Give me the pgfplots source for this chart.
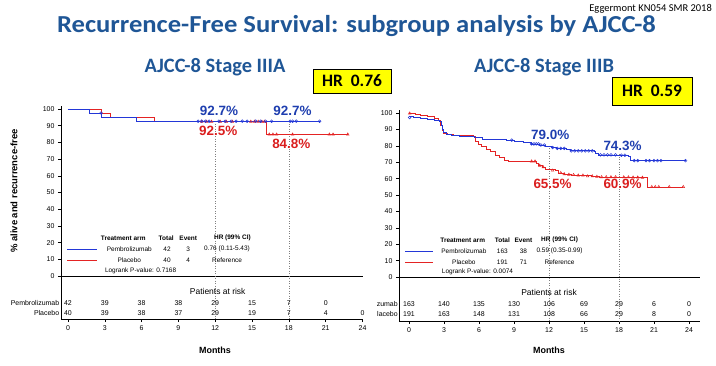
\documentclass[border=0pt]{standalone}
\usepackage{fontspec}
\setmainfont{Liberation Sans}
\newfontfamily\calfont{Carlito}
\usepackage{pgfplots}
\pgfplotsset{compat=1.18}
\definecolor{ttl}{RGB}{31,86,150}
\definecolor{kmblue}{RGB}{35,55,215}
\definecolor{kmred}{RGB}{228,35,35}
\definecolor{lblblue}{RGB}{30,62,175}
\definecolor{lblred}{RGB}{218,30,30}
\definecolor{hryel}{RGB}{255,255,0}
\pgfplotsset{kmaxis/.style={scale only axis, axis lines=left,
  axis line style={-, black, line width=0.6pt}, tick align=outside,
  major tick length=3bp, tick style={black, line width=0.5pt},
  ytick={0,10,...,100}, xtick={0,3,...,24}, clip=false,
  /pgf/number format/assume math mode=true,
  tick label style={font=\fontsize{7}{8}\selectfont},
  anchor=south west},
  bluecurve/.style={const plot, color=kmblue, line width=0.6pt, mark=none},
  redcurve/.style={const plot, color=kmred, line width=0.6pt, mark=none},
  bluecens/.style={only marks, mark=o, mark size=1.4bp, color=kmblue, mark options={line width=0.5pt}},
  redcens/.style={only marks, mark=triangle, mark size=1.5bp, color=kmred, mark options={line width=0.5pt}}}
\tikzset{risk/.style={font=\fontsize{7}{8}\selectfont, inner sep=0pt},
  leg/.style={font=\fontsize{6.5}{7}\selectfont, inner sep=0pt},
  legh/.style={font=\bfseries\fontsize{6.5}{7}\selectfont, inner sep=0pt},
  pctb/.style={font=\bfseries\fontsize{13.5}{14}\selectfont, text=lblblue, inner sep=0pt},
  pctr/.style={font=\bfseries\fontsize{13.5}{14}\selectfont, text=lblred, inner sep=0pt},
  hrbox/.style={draw=black, fill=hryel, line width=0.6pt, inner sep=0pt, font=\calfont\bfseries\fontsize{17.5}{18}\selectfont}}
\begin{document}
\begin{tikzpicture}
\path[use as bounding box] (0bp,0bp) rectangle (716bp,366bp);
% titles
\node[font=\calfont\bfseries\fontsize{24.5}{26}\selectfont, text=ttl, anchor=base, inner sep=0pt] at (356.5bp,333bp) {\scalebox{1.09}[1]{Recurrence-Free Survival: subgroup analysis by AJCC-8}};
\node[font=\calfont\fontsize{10.5}{11}\selectfont, anchor=east, inner sep=0pt] at (712bp,357bp) {Eggermont KN054 SMR 2018};
\node[font=\calfont\bfseries\fontsize{20.5}{22}\selectfont, text=ttl, anchor=base, inner sep=0pt] at (215bp,293bp) {AJCC-8 Stage IIIA};
\node[font=\calfont\bfseries\fontsize{20.5}{22}\selectfont, text=ttl, anchor=base, inner sep=0pt] at (544bp,293bp) {AJCC-8 Stage IIIB};
\node[hrbox, minimum width=78bp, minimum height=24bp] at (352bp,285bp) {HR\ \ 0.76};
\node[hrbox, minimum width=80bp, minimum height=28bp] at (652bp,275bp) {HR\ \ 0.59};
\node[rotate=90, font=\bfseries\fontsize{9.5}{10}\selectfont] at (14bp,175bp) {\% alive and recurrence-free};
\node[font=\bfseries\fontsize{9}{10}\selectfont] at (215bp,16bp) {Months};
\node[font=\bfseries\fontsize{9}{10}\selectfont] at (549bp,16bp) {Months};

% ---------------- Left panel: Stage IIIA ----------------
\begin{axis}[kmaxis, at={(61bp,47bp)}, width=301.5bp, height=213.3bp,
  xmin=-0.57, xmax=24, ymin=-25.7, ymax=102]
\draw[black, line width=0.6pt] (axis cs:-0.57,0) -- (axis cs:24,0);
\draw[gray, dotted, line width=0.5pt] (axis cs:12,92.7) -- (axis cs:12,-25.7);
\draw[gray, dotted, line width=0.5pt] (axis cs:18,92.7) -- (axis cs:18,-25.7);
\addplot[redcurve] coordinates {(0,100) (2.75,97.5) (3.42,95.0) (7.0,92.5) (16.2,84.8) (22.8,84.8)};
\addplot[bluecurve] coordinates {(0,100) (1.74,97.6) (2.74,95.2) (5.6,92.7) (20.5,92.7)};
\addplot[redcens] coordinates {(10.9,92.5) (11.3,92.5) (11.7,92.5) (12.4,92.5) (12.9,92.5) (13.4,92.5) (14.9,92.5) (15.2,92.5) (15.5,92.5) (15.8,92.5) (16.0,92.5)
  (16.4,84.8) (16.7,84.8) (17.0,84.8) (18.3,84.8) (21.3,84.8) (21.6,84.8) (22.8,84.8)};
\addplot[bluecens] coordinates {(2.7,97.6) (10.6,92.7) (10.9,92.7) (11.2,92.7) (11.5,92.7) (12.3,92.7) (12.8,92.7) (13.3,92.7) (13.7,92.7) (14.2,92.7) (14.6,92.7) (15.3,92.7) (15.7,92.7) (16.1,92.7) (16.6,92.7) (18.1,92.7) (18.3,92.7) (18.6,92.7) (20.5,92.7)};
\node[pctb] at (axis cs:12.3,98.8) {92.7\%};
\node[pctb] at (axis cs:18.3,98.8) {92.7\%};
\node[pctr] at (axis cs:12.25,87.0) {92.5\%};
\node[pctr] at (axis cs:18.2,79.4) {84.8\%};
% legend
\node[legh] at (axis cs:4.5,22.8) {Treatment arm};
\node[legh] at (axis cs:8.0,22.8) {Total};
\node[legh] at (axis cs:9.8,22.8) {Event};
\node[legh] at (axis cs:13.4,22.8) {HR (99\% CI)};
\draw[kmblue, line width=0.6pt] (axis cs:-0.07,16.2) -- (axis cs:2.4,16.2);
\draw[kmred, line width=0.6pt] (axis cs:-0.07,9.6) -- (axis cs:2.4,9.6);
\node[leg] at (axis cs:5.0,16.2) {Pembrolizumab};
\node[leg] at (axis cs:8.07,16.2) {42};
\node[leg] at (axis cs:9.8,16.2) {3};
\node[leg] at (axis cs:12.96,16.2) {0.76 (0.11-5.43)};
\node[leg] at (axis cs:5.0,9.6) {Placebo};
\node[leg] at (axis cs:8.07,9.6) {40};
\node[leg] at (axis cs:9.8,9.6) {4};
\node[leg] at (axis cs:12.96,9.6) {Reference};
\node[leg, anchor=west] at (axis cs:3.0,3.0) {Logrank P-value: 0.7168};
% risk table
\node[font=\fontsize{8.5}{9}\selectfont, inner sep=0pt] at (axis cs:12.2,-9.0) {Patients at risk};
\node[risk, anchor=east] at (axis cs:-0.7,-16.2) {Pembrolizumab};
\node[risk, anchor=east] at (axis cs:-0.7,-22.2) {Placebo};
\node[risk] at (axis cs:0,-16.2) {42};
\node[risk] at (axis cs:3,-16.2) {39};
\node[risk] at (axis cs:6,-16.2) {38};
\node[risk] at (axis cs:9,-16.2) {38};
\node[risk] at (axis cs:12,-16.2) {29};
\node[risk] at (axis cs:15,-16.2) {15};
\node[risk] at (axis cs:18,-16.2) {7};
\node[risk] at (axis cs:21,-16.2) {0};
\node[risk] at (axis cs:0,-22.2) {40};
\node[risk] at (axis cs:3,-22.2) {39};
\node[risk] at (axis cs:6,-22.2) {38};
\node[risk] at (axis cs:9,-22.2) {37};
\node[risk] at (axis cs:12,-22.2) {29};
\node[risk] at (axis cs:15,-22.2) {19};
\node[risk] at (axis cs:18,-22.2) {7};
\node[risk] at (axis cs:21,-22.2) {4};
\node[risk] at (axis cs:24,-22.2) {0};
\end{axis}

% ---------------- Right panel: Stage IIIB ----------------
\begin{axis}[kmaxis, at={(399bp,45bp)}, width=300.6bp, height=211.2bp,
  xmin=-0.86, xmax=24.9, ymin=-26.8, ymax=102]
\draw[black, line width=0.6pt] (axis cs:-0.86,0) -- (axis cs:24.9,0);
\draw[gray, dotted, line width=0.5pt] (axis cs:12,80) -- (axis cs:12,-26.8);
\draw[gray, dotted, line width=0.5pt] (axis cs:18,75) -- (axis cs:18,-26.8);
\addplot[redcurve] coordinates {(0,100) (0.5,99.4) (1.0,98.8) (1.6,98.2) (2.2,97.0) (2.5,95.5) (2.7,92.5) (2.85,89.5) (2.95,87.8) (3.3,87.0) (3.8,86.4) (5.5,86.0) (5.7,83.0) (5.9,81.0) (6.2,79.5) (6.6,78.0) (7.0,76.5) (7.4,74.5) (7.7,73.0) (8.2,71.5) (8.5,70.6) (10.7,70.6) (10.9,69.5) (11.1,68.0) (11.4,67.0) (11.7,66.0) (12.0,65.5) (12.5,64.8) (12.8,63.5) (13.3,62.8) (13.9,62.3) (15.0,62.0) (15.6,61.5) (16.3,61.0) (20.3,60.7) (20.4,55.0) (23.5,55.0)};
\addplot[bluecurve] coordinates {(0,97.8) (0.4,97.2) (1.0,96.6) (1.6,96.0) (2.2,95.5) (2.6,95.0) (2.75,92.5) (2.85,90) (2.95,88) (3.2,87.2) (3.6,86.6) (4.3,86.1) (5.0,85.6) (5.6,85.0) (6.3,84.3) (7.2,84.0) (8.3,83.5) (9.0,82.5) (9.8,82.0) (10.5,81.2) (11.2,80.5) (11.7,79.8) (12.2,79.0) (12.6,78.5) (13.5,77.8) (13.8,77.0) (15.9,76.6) (16.0,75.5) (16.2,74.5) (18.3,74.3) (18.8,73.4) (19.0,71.0) (23.7,71.0)};
\addplot[redcens] coordinates {(0.05,99.8) (10.5,70.6) (10.8,70.6) (11.2,68) (11.5,67) (12.3,65) (13.0,63.5) (13.3,62.8) (13.7,62.5) (14.1,62.3) (14.5,62) (14.9,62) (15.3,61.5) (15.7,61.5) (16.1,61.2) (16.5,61) (16.9,61) (17.3,61) (17.7,61) (18.4,60.9) (18.8,60.9) (19.2,60.8) (19.6,60.8) (20.0,60.7) (20.8,55) (21.1,55) (21.4,55) (22.3,55) (23.5,55)};
\addplot[bluecens] coordinates {(0.05,97.3) (8.8,83.5) (10.5,81.2) (10.7,81.2) (10.9,81.2) (11.1,81.2) (11.3,80.5) (11.6,80.5) (12.3,79.0) (12.7,78.5) (13.0,78.5) (13.3,78.5) (13.9,77.0) (14.2,77.0) (14.5,77.0) (14.8,77.0) (15.1,77.0) (15.4,77.0) (15.7,77.0) (16.4,74.5) (16.7,74.5) (17.0,74.5) (17.3,74.5) (17.7,74.5) (18.2,74.3) (18.5,74.3) (19.3,71) (19.6,71) (20.3,71) (20.6,71) (21.0,71) (21.3,71) (21.6,71) (23.7,71)};
\node[pctb] at (axis cs:12.1,86.6) {79.0\%};
\node[pctb] at (axis cs:18.3,79.9) {74.3\%};
\node[pctr] at (axis cs:12.3,57.1) {65.5\%};
\node[pctr] at (axis cs:18.3,57.1) {60.9\%};
% legend
\node[legh] at (axis cs:4.6,22.6) {Treatment arm};
\node[legh] at (axis cs:8.0,22.6) {Total};
\node[legh] at (axis cs:9.8,22.6) {Event};
\node[legh] at (axis cs:12.9,22.6) {HR (99\% CI)};
\draw[kmblue, line width=0.6pt] (axis cs:-0.34,16.0) -- (axis cs:2.06,16.0);
\draw[kmred, line width=0.6pt] (axis cs:-0.34,9.3) -- (axis cs:2.06,9.3);
\node[leg] at (axis cs:4.7,16.0) {Pembrolizumab};
\node[leg] at (axis cs:8.0,16.0) {163};
\node[leg] at (axis cs:9.8,16.0) {38};
\node[leg] at (axis cs:12.9,16.0) {0.59 (0.35-0.99)};
\node[leg] at (axis cs:4.7,9.3) {Placebo};
\node[leg] at (axis cs:8.0,9.3) {191};
\node[leg] at (axis cs:9.8,9.3) {71};
\node[leg] at (axis cs:12.9,9.3) {Reference};
\node[leg, anchor=west] at (axis cs:2.8,3.2) {Logrank P-value: 0.0074};
% risk table
\node[font=\fontsize{8.5}{9}\selectfont, inner sep=0pt] at (axis cs:12.0,-9.1) {Patients at risk};
\node[risk, anchor=east] at (axis cs:-0.95,-16.5) {zumab};
\node[risk, anchor=east] at (axis cs:-0.95,-22.6) {lacebo};
\node[risk] at (axis cs:0,-16.5) {163};
\node[risk] at (axis cs:3,-16.5) {140};
\node[risk] at (axis cs:6,-16.5) {135};
\node[risk] at (axis cs:9,-16.5) {130};
\node[risk] at (axis cs:12,-16.5) {106};
\node[risk] at (axis cs:15,-16.5) {69};
\node[risk] at (axis cs:18,-16.5) {29};
\node[risk] at (axis cs:21,-16.5) {6};
\node[risk] at (axis cs:24,-16.5) {0};
\node[risk] at (axis cs:0,-22.6) {191};
\node[risk] at (axis cs:3,-22.6) {163};
\node[risk] at (axis cs:6,-22.6) {148};
\node[risk] at (axis cs:9,-22.6) {131};
\node[risk] at (axis cs:12,-22.6) {108};
\node[risk] at (axis cs:15,-22.6) {66};
\node[risk] at (axis cs:18,-22.6) {29};
\node[risk] at (axis cs:21,-22.6) {8};
\node[risk] at (axis cs:24,-22.6) {0};
\end{axis}
\end{tikzpicture}
\end{document}
